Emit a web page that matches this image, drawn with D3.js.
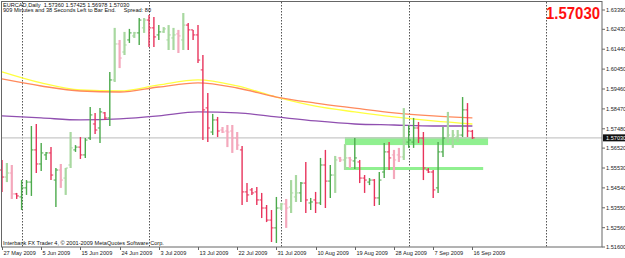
<!DOCTYPE html>
<html>
<head>
<meta charset="utf-8">
<script src="https://cdn.jsdelivr.net/npm/d3@7"></script>
<style>
body { margin: 0; background: #fff; }
svg { display: block; }
</style>
</head>
<body>
<script>
// EURCAD daily, 27 May 2009 .. 16 Sep 2009 (Sunday bars included)
const opens = [
  1.5543,1.5508,1.5528,1.5424,1.5409,1.5454,1.5483,1.5643,1.5573,1.5618,
  1.5628,1.5493,1.5543,1.5503,1.5568,1.5643,1.5657,1.5618,1.5702,1.5772,
  1.5752,1.5827,1.5802,1.5991,1.6170,1.6130,1.6190,1.6210,1.6225,1.6250,
  1.6289,1.6250,1.6215,1.6230,1.6190,1.6200,1.6220,1.6190,1.6264,1.6240,
  1.6215,1.6041,1.5852,1.5732,1.5792,1.5742,1.5737,1.5737,1.5702,1.5643,
  1.5434,1.5444,1.5434,1.5394,1.5354,1.5294,1.5255,1.5354,1.5374,1.5359,
  1.5409,1.5429,1.5478,1.5379,1.5394,1.5379,1.5568,1.5488,1.5518,1.5603,
  1.5593,1.5603,1.5588,1.5583,1.5503,1.5483,1.5493,1.5404,1.5533,1.5633,
  1.5618,1.5618,1.5608,1.5682,1.5682,1.5752,1.5702,1.5543,1.5533,1.5454,
  1.5633,1.5702,1.5702,1.5707,1.5717,1.5842,1.5736
];
const highs = [
  1.5593,1.5578,1.5568,1.5429,1.5493,1.5493,1.5762,1.5772,1.5677,1.5633,
  1.5657,1.5553,1.5573,1.5553,1.5732,1.5667,1.5707,1.5702,1.5856,1.5827,
  1.5851,1.5832,1.6031,1.6250,1.6190,1.6230,1.6245,1.6230,1.6299,1.6299,
  1.6314,1.6304,1.6264,1.6254,1.6264,1.6250,1.6240,1.6324,1.6274,1.6240,
  1.6264,1.6115,1.5926,1.5822,1.5807,1.5757,1.5767,1.5767,1.5732,1.5662,
  1.5478,1.5454,1.5459,1.5429,1.5369,1.5344,1.5409,1.5379,1.5399,1.5493,
  1.5518,1.5483,1.5583,1.5404,1.5434,1.5603,1.5643,1.5568,1.5613,1.5608,
  1.5672,1.5608,1.5702,1.5593,1.5518,1.5503,1.5498,1.5533,1.5677,1.5682,
  1.5643,1.5653,1.5851,1.5767,1.5802,1.5782,1.5732,1.5553,1.5543,1.5682,
  1.5757,1.5832,1.5742,1.5742,1.5906,1.5876,1.57425
];
const lows = [
  1.5434,1.5483,1.5399,1.5399,1.5344,1.5419,1.5414,1.5528,1.5538,1.5593,
  1.5493,1.5359,1.5454,1.5419,1.5553,1.5633,1.5598,1.5603,1.5692,1.5722,
  1.5677,1.5792,1.5762,1.5981,1.6050,1.6115,1.6175,1.6200,1.6165,1.6225,
  1.6155,1.6155,1.6190,1.6225,1.6140,1.6140,1.6125,1.6140,1.6140,1.6190,
  1.6075,1.5692,1.5682,1.5717,1.5707,1.5727,1.5657,1.5628,1.5643,1.5369,
  1.5384,1.5419,1.5369,1.5304,1.5284,1.5185,1.5180,1.5344,1.5255,1.5329,
  1.5384,1.5384,1.5329,1.5344,1.5329,1.5369,1.5354,1.5404,1.5429,1.5583,
  1.5543,1.5553,1.5548,1.5478,1.5429,1.5468,1.5364,1.5369,1.5503,1.5543,
  1.5498,1.5583,1.5593,1.5653,1.5653,1.5677,1.5493,1.5528,1.5404,1.5429,
  1.5608,1.5677,1.5653,1.5682,1.5707,1.5707,1.56978
];
const closes = [
  1.5508,1.5528,1.5424,1.5414,1.5454,1.5483,1.5643,1.5573,1.5628,1.5628,
  1.5518,1.5543,1.5493,1.5553,1.5653,1.5657,1.5618,1.5692,1.5817,1.5742,
  1.5832,1.5802,1.5991,1.6170,1.6100,1.6165,1.6225,1.6225,1.6289,1.6289,
  1.6250,1.6205,1.6230,1.6245,1.6215,1.6215,1.6210,1.6264,1.6240,1.6215,
  1.6090,1.5842,1.5752,1.5792,1.5737,1.5732,1.5732,1.5702,1.5667,1.5434,
  1.5419,1.5429,1.5394,1.5354,1.5294,1.5255,1.5354,1.5374,1.5354,1.5429,
  1.5429,1.5478,1.5394,1.5384,1.5379,1.5568,1.5488,1.5518,1.5593,1.5593,
  1.5603,1.5593,1.5603,1.5503,1.5493,1.5493,1.5404,1.5493,1.5633,1.5603,
  1.5593,1.5608,1.5682,1.5692,1.5752,1.5702,1.5553,1.5533,1.5444,1.5633,
  1.5702,1.5717,1.5717,1.5717,1.5842,1.5737,1.5703
];
// bars drawn in the paler shade
const weak = [
  0,1,1,0,0,0,0,0,0,0, 0,0,1,1,1,0,0,0,0,0,
  0,0,0,1,1,1,0,1,0,1, 0,0,0,1,1,1,1,1,0,0,
  0,0,0,0,0,1,1,1,1,0, 0,0,0,0,0,0,0,1,1,1,
  1,0,0,0,0,0,0,0,1,1, 1,1,0,0,0,0,0,0,0,0,
  1,1,1,0,0,0,0,0,0,0, 0,1,1,1,0,0,0
];

// moving averages, read every 8 bars
const maIdx    = [0, 8, 16, 24, 32, 40, 48, 56, 64, 72, 80, 88, 96];
const maYellow = [1.6031,1.5976,1.5941,1.5936,1.5966,1.5991,1.5961,1.5906,1.5861,1.5832,1.5807,1.5787,1.5772];
const maOrange = [1.5996,1.5961,1.5936,1.5931,1.5956,1.5976,1.5951,1.5906,1.5876,1.5851,1.5827,1.5812,1.5802];
const maPurple = [1.5812,1.5802,1.5792,1.5797,1.5812,1.5832,1.5827,1.5807,1.5787,1.5772,1.5767,1.5762,1.5762];

const priceTicks = [1.6339,1.6243,1.6144,1.6045,1.5946,1.5847,1.5748,1.5652,1.5553,1.5454,1.5355,1.5256,1.5160];
const lastPrice = 1.5703;

const dateIdx = [0, 8, 16, 24, 32, 40, 48, 56, 64, 72, 80, 88, 96];
const dateLabels = ["27 May 2009","5 Jun 2009","15 Jun 2009","24 Jun 2009","3 Jul 2009","13 Jul 2009",
  "22 Jul 2009","31 Jul 2009","10 Aug 2009","19 Aug 2009","28 Aug 2009","7 Sep 2009","16 Sep 2009"];
const monthStarts = [4, 30, 57, 83, 111];

// green zones: from bar, to bar, top price, bottom price
const zoneFrom = [70, 70];
const zoneTo   = [99.2, 98.2];
const zoneTop  = [1.5707, 1.5558];
const zoneBot  = [1.5667, 1.5543];

const width = 625, height = 258;
const plotL = 2, plotR = 602, plotT = 2, plotB = 247;

const x = d3.scaleLinear().domain([0, 122.45]).range([plotL, plotR]);
const y = d3.scaleLinear().domain([1.5160, 1.6339]).range([247, 10]);

const svg = d3.create('svg')
  .attr('width', width)
  .attr('height', height)
  .attr('viewBox', [0, 0, width, height])
  .style('font-family', '"Liberation Sans", Arial, sans-serif');

svg.append('rect').attr('width', width).attr('height', height).attr('fill', '#fff');

const plot = svg.append('g');

// month separators
plot.selectAll('line.sep')
  .data(monthStarts)
  .join('line')
  .attr('x1', d => Math.round(x(d)) + 0.5)
  .attr('x2', d => Math.round(x(d)) + 0.5)
  .attr('y1', plotT).attr('y2', plotB)
  .attr('stroke', '#555')
  .attr('stroke-dasharray', '1.5,1.5');

// zones
plot.selectAll('rect.zone')
  .data(zoneFrom)
  .join('rect')
  .attr('x', d => x(d))
  .attr('width', (d, i) => x(zoneTo[i]) - x(d))
  .attr('y', (d, i) => y(zoneTop[i]))
  .attr('height', (d, i) => y(zoneBot[i]) - y(zoneTop[i]))
  .attr('fill', '#90f090');
plot.append('line')
  .attr('x1', x(zoneFrom[0]) + 0.5).attr('x2', x(zoneFrom[0]) + 0.5)
  .attr('y1', y(zoneTop[0])).attr('y2', y(zoneBot[1]))
  .attr('stroke', '#90f090').attr('stroke-width', 1.2);

// last price line
plot.append('line')
  .attr('x1', plotL).attr('x2', plotR)
  .attr('y1', y(lastPrice)).attr('y2', y(lastPrice))
  .attr('stroke', '#c8c8c8').attr('stroke-width', 1.2);

// moving averages
const maLine = d3.line().x((d, i) => x(maIdx[i])).y(d => y(d)).curve(d3.curveMonotoneX);
[[maYellow, '#ffff40'], [maOrange, '#ff8a5c'], [maPurple, '#9050b0']].forEach(([vals, col]) => {
  plot.append('path')
    .attr('d', maLine(vals))
    .attr('fill', 'none')
    .attr('stroke', col)
    .attr('stroke-width', 1.3);
});

// OHLC bars
const bars = plot.selectAll('g.bar')
  .data(d3.range(opens.length))
  .join('g')
  .attr('stroke', i => {
    const up = closes[i] >= opens[i];
    if (weak[i]) return up ? '#a8d8a0' : '#f4a8bc';
    return up ? '#4caa4c' : '#e8345c';
  });

bars.append('line')
  .attr('x1', i => x(i)).attr('x2', i => x(i))
  .attr('y1', i => y(highs[i])).attr('y2', i => y(lows[i]))
  .attr('stroke-width', i => weak[i] ? 2.2 : 1.4);
bars.append('line')
  .attr('x1', i => x(i) - 2.2).attr('x2', i => x(i))
  .attr('y1', i => y(opens[i])).attr('y2', i => y(opens[i]))
  .attr('stroke-width', 1);
bars.append('line')
  .attr('x1', i => x(i)).attr('x2', i => x(i) + 2.2)
  .attr('y1', i => y(closes[i])).attr('y2', i => y(closes[i]))
  .attr('stroke-width', 1);

// frame
svg.append('rect')
  .attr('x', 1.5).attr('y', 1.5)
  .attr('width', plotR - 1.5).attr('height', plotB - 1.5)
  .attr('fill', 'none').attr('stroke', '#666');

// price axis
const pt = svg.append('g').selectAll('g').data(priceTicks).join('g')
  .attr('transform', d => `translate(${plotR},${y(d)})`);
pt.append('line').attr('x1', 0).attr('x2', 3).attr('stroke', '#666');
pt.append('text')
  .attr('x', 4).attr('dy', '0.35em')
  .attr('font-size', 5.6).attr('fill', '#222')
  .text(d => d.toFixed(5));

svg.append('rect')
  .attr('x', plotR + 1).attr('y', y(lastPrice) - 3.5)
  .attr('width', 23).attr('height', 7).attr('fill', '#111');
svg.append('text')
  .attr('x', plotR + 4).attr('y', y(lastPrice)).attr('dy', '0.35em')
  .attr('font-size', 5.6).attr('fill', '#fff')
  .text(lastPrice.toFixed(5));

// date axis
const dt = svg.append('g').selectAll('g').data(dateIdx).join('g')
  .attr('transform', d => `translate(${Math.round(x(d)) + 0.5},${plotB})`);
dt.append('line').attr('y1', 0).attr('y2', 3).attr('stroke', '#666');
dt.append('text')
  .attr('x', 1).attr('y', 8)
  .attr('font-size', 5.6).attr('fill', '#222')
  .text((d, i) => dateLabels[i]);

// header and footer text
svg.append('text').attr('x', 3).attr('y', 6.8).attr('font-size', 5.6).attr('fill', '#111')
  .attr('xml:space', 'preserve')
  .text(`EURCAD,Daily  ${opens[96].toFixed(5)} ${highs[96].toFixed(5)} ${lows[96].toFixed(5)} ${closes[96].toFixed(5)}`);
svg.append('text').attr('x', 3).attr('y', 12).attr('font-size', 5.6).attr('fill', '#111')
  .attr('xml:space', 'preserve')
  .text('909 Minutes and 38 Seconds Left to Bar End.     Spread: 80');
svg.append('text').attr('x', 3).attr('y', 244.5).attr('font-size', 5.6).attr('fill', '#111')
  .text('Interbank FX Trader 4, © 2001-2009 MetaQuotes Software Corp.');

svg.append('text')
  .attr('x', 546).attr('y', 18.5)
  .attr('font-size', 16.5).attr('font-weight', 'bold').attr('fill', '#ff1010')
  .attr('textLength', 54).attr('lengthAdjust', 'spacingAndGlyphs')
  .text(lastPrice.toFixed(5));

document.body.appendChild(svg.node());
</script>
</body>
</html>
